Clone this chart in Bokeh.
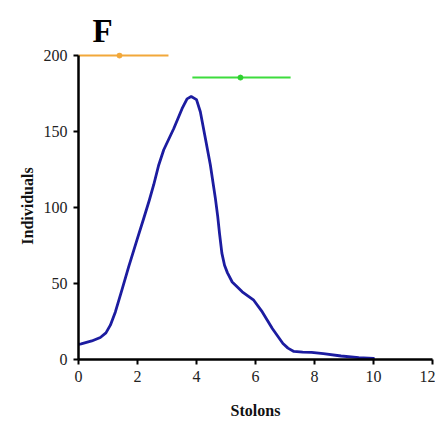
from bokeh.plotting import figure
from bokeh.models import Range1d, FixedTicker
from bokeh.embed import file_html
from bokeh.resources import INLINE

# Smoothed curve
stolons = [0, 0.09, 0.45, 0.74, 0.93, 1.08, 1.25, 1.47, 1.70, 1.98, 2.21, 2.40,
           2.55, 2.72, 2.89, 3.23, 3.51, 3.68, 3.82, 4.0, 4.13, 4.30, 4.47, 4.64,
           4.72, 4.78, 4.86, 4.95, 5.05, 5.21, 5.55, 5.94, 6.23, 6.57, 6.93, 7.1, 7.3,
           7.6, 7.9, 8.3, 8.9, 9.5, 10.0]
individuals = [10, 10.3, 12.2, 14.5, 17.5, 22.6, 31.3, 45.6, 61, 78.5, 92.8, 104.8,
               115, 128, 138, 152, 165, 171.5, 173, 171, 163, 145.6, 128, 106,
               94, 83, 70, 62, 57, 51, 44.5, 39, 31.3, 20.4, 10.5, 7.5, 5.3,
               4.8, 4.7, 3.8, 2.3, 1.2, 0.8]

# Horizontal ranges with central markers
orange_x = [0, 3.05]
orange_y = [200, 200]
orange_mid = [1.39]
green_x = [3.86, 7.19]
green_y = [185.5, 185.5]
green_mid = [5.49]

x_ticks = [0, 2, 4, 6, 8, 10, 12]
y_ticks = [0, 50, 100, 150, 200]

SERIF = "Liberation Serif"

p = figure(width=435, height=425, output_backend="svg", toolbar_location=None,
           x_range=Range1d(0, 12), y_range=Range1d(0, 202))
p.min_border_left = 78
p.min_border_right = 3
p.min_border_top = 52
p.min_border_bottom = 66
p.outline_line_color = None
p.xgrid.visible = False
p.ygrid.visible = False
p.background_fill_color = "white"
p.border_fill_color = "white"

p.title.text = "F"
p.title.text_font = SERIF
p.title.text_font_style = "bold"
p.title.text_font_size = "33px"
p.title.text_color = "black"
p.title.align = "left"
p.title.vertical_align = "top"
p.title.offset = 14
p.title.standoff = 4

p.line(stolons, individuals, line_color="#1c1ca0", line_width=2.8,
       line_join="round", line_cap="round")
p.line(orange_x, orange_y, line_color="#f2a83a", line_width=2)
p.scatter(orange_mid, [orange_y[0]], size=5, color="#f2a83a")
p.line(green_x, green_y, line_color="#3ddc3d", line_width=2)
p.scatter(green_mid, [green_y[0]], size=5, color="#2fd02f")

for ax in (p.xaxis[0], p.yaxis[0]):
    ax.axis_line_color = "black"
    ax.axis_line_width = 2.5
    ax.major_tick_line_color = "black"
    ax.major_tick_line_width = 2
    ax.major_tick_out = 5
    ax.major_tick_in = 0
    ax.minor_tick_line_color = None
    ax.major_label_text_font = SERIF
    ax.major_label_text_font_size = "16px"
    ax.major_label_text_color = "#222222"
    ax.axis_label_text_font = SERIF
    ax.axis_label_text_font_style = "bold"
    ax.axis_label_text_font_size = "16px"
    ax.axis_label_text_color = "#111111"

p.xaxis.ticker = FixedTicker(ticks=x_ticks)
p.yaxis.ticker = FixedTicker(ticks=y_ticks)
p.yaxis.bounds = (0, 200)
p.xaxis.axis_label = "Stolons"
p.yaxis.axis_label = "Individuals"
p.xaxis.major_label_standoff = 6
p.xaxis.axis_label_standoff = 17
p.yaxis.major_label_standoff = 6
p.yaxis.axis_label_standoff = 5

open("out.html", "w").write(file_html(p, INLINE))
